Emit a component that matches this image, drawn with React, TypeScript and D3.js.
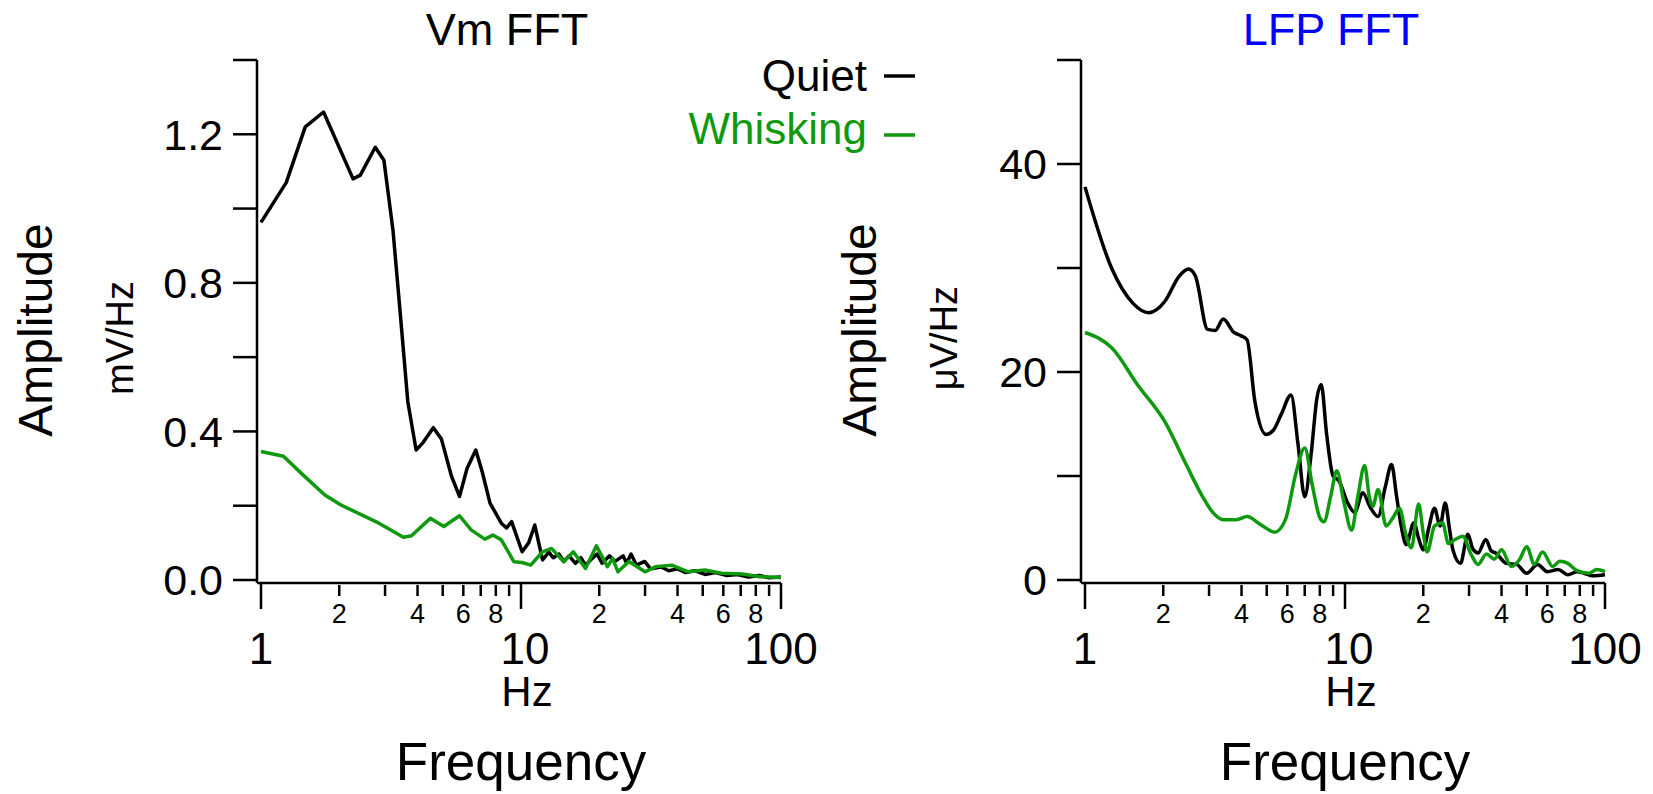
import React from "react";
import * as d3 from "d3";

// ---------- data ----------
const vmQuietFreq = [1.0, 1.25, 1.48, 1.74, 2.26, 2.41, 2.75, 2.97, 3.22, 3.44, 3.67, 3.95, 4.2, 4.6, 4.94, 5.4, 5.8, 6.2, 6.7, 7.1, 7.6, 8.4, 8.8, 9.2, 10.1, 10.7, 11.3, 12.1, 12.8, 13.3, 14.0, 14.6, 15.3, 16.2, 17.0, 17.7, 18.6, 19.6, 20.5, 21.9, 23.0, 24.7, 25.5, 26.5, 27.8, 29.9, 31.5, 34.6, 37, 40, 43, 46.5, 51, 56, 62, 68, 75, 82.6, 90, 100];
const vmQuietAmp = [0.963, 1.07, 1.22, 1.26, 1.08, 1.09, 1.165, 1.13, 0.94, 0.71, 0.48, 0.35, 0.37, 0.41, 0.38, 0.28, 0.225, 0.3, 0.35, 0.29, 0.207, 0.153, 0.14, 0.157, 0.076, 0.1, 0.148, 0.054, 0.075, 0.06, 0.07, 0.05, 0.065, 0.045, 0.06, 0.04, 0.055, 0.07, 0.045, 0.065, 0.05, 0.065, 0.045, 0.07, 0.04, 0.05, 0.03, 0.035, 0.025, 0.03, 0.02, 0.025, 0.015, 0.02, 0.012, 0.015, 0.008, 0.012, 0.006, 0.008];

const vmWhiskFreq = [1.0, 1.22, 1.45, 1.76, 2.03, 2.84, 3.53, 3.79, 4.48, 5.05, 5.8, 6.43, 7.25, 7.8, 8.4, 9.4, 10.1, 10.9, 12.1, 13.1, 14.6, 15.9, 17.7, 19.5, 21.5, 22.5, 23.6, 26, 30, 33, 38, 44, 51, 59, 71, 83, 100];
const vmWhiskAmp = [0.346, 0.333, 0.283, 0.229, 0.202, 0.153, 0.115, 0.119, 0.166, 0.144, 0.173, 0.135, 0.11, 0.121, 0.108, 0.049, 0.047, 0.04, 0.076, 0.085, 0.049, 0.076, 0.031, 0.092, 0.036, 0.058, 0.022, 0.05, 0.022, 0.036, 0.04, 0.022, 0.027, 0.018, 0.016, 0.009, 0.007];

const lfpQuietFreq = [1.0, 1.27, 1.53, 1.76, 2.03, 2.3, 2.5, 2.66, 2.96, 3.17, 3.4, 3.74, 3.97, 4.2, 4.5, 4.97, 5.3, 5.7, 6.2, 6.6, 7.0, 7.4, 7.8, 8.1, 8.5, 9.0, 9.5, 10.2, 10.9, 11.7, 12.5, 13.4, 14.3, 15.1, 15.8, 16.5, 17.2, 18.4, 19.2, 20.0, 21.0, 22.1, 23.2, 24.3, 25.2, 26.0, 27.8, 29.7, 31.0, 32.5, 34.8, 36.5, 38, 41.7, 45.7, 50, 55, 60, 66, 72, 78, 83, 90, 100];
const lfpQuietAmp = [37.8, 29.9, 26.6, 25.7, 26.8, 29.2, 29.9, 29.2, 24.1, 24.0, 25.1, 23.8, 23.5, 23.1, 17.2, 14.0, 14.4, 16.0, 17.8, 13.0, 8.0, 12.0, 17.5, 18.8, 14.0, 10.0, 9.5, 7.5, 6.5, 8.4, 7.0, 6.1, 9.0, 11.1, 8.0, 5.0, 3.4, 5.5, 4.0, 2.9, 5.0, 6.9, 5.2, 7.4, 5.0, 2.9, 1.6, 4.4, 3.0, 2.6, 3.9, 2.8, 2.6, 1.6, 1.5, 0.65, 1.5, 0.8, 1.0, 0.5, 0.8, 0.65, 0.4, 0.5];

const lfpWhiskFreq = [1.0, 1.27, 1.6, 2.03, 2.45, 2.82, 3.1, 3.4, 3.82, 4.2, 4.75, 5.37, 5.9, 6.45, 7.0, 7.5, 8.0, 8.3, 8.8, 9.3, 9.9, 10.6, 11.2, 11.9, 12.4, 12.8, 13.4, 14.4, 15.3, 16.2, 17.1, 18.0, 19.2, 20.0, 20.7, 22.1, 23.7, 25.0, 26.5, 28.4, 30.5, 32.5, 35, 37.5, 40, 43.6, 47, 50, 53.5, 57.5, 63, 67, 72, 78, 86.5, 93, 100];
const lfpWhiskAmp = [23.8, 22.3, 18.7, 15.2, 11.1, 8.1, 6.5, 5.8, 5.8, 6.1, 5.3, 4.6, 5.8, 10.1, 12.7, 9.0, 6.0, 5.6, 8.0, 10.5, 7.5, 4.8, 8.0, 11.0, 8.0, 7.1, 8.7, 5.2, 6.0, 6.9, 4.5, 3.1, 7.3, 4.5, 2.7, 5.2, 5.5, 3.5, 3.9, 4.2, 2.5, 1.5, 2.5, 2.0, 2.9, 1.3, 2.0, 3.2, 1.5, 2.7, 1.3, 1.8, 1.6, 0.9, 0.65, 1.0, 0.8];

const vmMajorTicks = [0, 0.4, 0.8, 1.2];
const vmMinorTicks = [0.2, 0.6, 1.0, 1.4];
const lfpMajorTicks = [0, 20, 40];
const lfpMinorTicks = [10, 30, 50];
const xMinorLabels = [2, 4, 6, 8, 20, 40, 60, 80];
const xMajorTicks = [1, 10, 100];

const legendLabels = ["Quiet", "Whisking"];

const BLACK = "#000000";
const GREEN = "#0f990f";
const FONT = "'Liberation Sans', Arial, Helvetica, sans-serif";

type PanelProps = {
  left: number;
  title: string;
  titleColor: string;
  unit: string;
  yMax: number;
  major: number[];
  minor: number[];
  fmt: (v: number) => string;
  quietF: number[];
  quietA: number[];
  whiskF: number[];
  whiskA: number[];
  curve: d3.CurveFactory;
};

function Panel(p: PanelProps) {
  const axisX = p.left;
  const x = d3.scaleLog().domain([1, 100]).range([axisX + 4, axisX + 524]);
  const y = d3.scaleLinear().domain([0, p.yMax]).range([580, 60]);
  const xAxisY = 583;
  const line = d3
    .line<[number, number]>()
    .x((d) => x(d[0]))
    .y((d) => y(d[1]))
    .curve(p.curve);
  const qData = p.quietF.map((f, i) => [f, p.quietA[i]] as [number, number]);
  const wData = p.whiskF.map((f, i) => [f, p.whiskA[i]] as [number, number]);
  const allMinorX: number[] = [];
  for (let dec = 1; dec <= 10; dec *= 10) {
    for (let k = 2; k <= 9; k++) allMinorX.push(k * dec);
  }
  const cx = (x(1) + x(100)) / 2;
  const midY = 330;
  return (
    <g>
      <text x={cx - 14} y={45} textAnchor="middle" fontSize={45} fill={p.titleColor} fontFamily={FONT}>
        {p.title}
      </text>
      {/* y axis */}
      <line x1={axisX} x2={axisX} y1={60} y2={xAxisY} stroke={BLACK} strokeWidth={2.5} />
      {[...p.major, ...p.minor].map((t) => (
        <line key={"yt" + t} x1={axisX - 24} x2={axisX} y1={y(t)} y2={y(t)} stroke={BLACK} strokeWidth={2.5} />
      ))}
      {p.major.map((t) => (
        <text key={"yl" + t} x={axisX - 34} y={y(t)} dy="0.36em" textAnchor="end" fontSize={43} fontFamily={FONT}>
          {p.fmt(t)}
        </text>
      ))}
      <text
        transform={`translate(${axisX - 205},${midY}) rotate(-90)`}
        textAnchor="middle"
        fontSize={48}
        fontFamily={FONT}
      >
        Amplitude
      </text>
      <text
        transform={`translate(${axisX - 124},${midY + 8}) rotate(-90)`}
        textAnchor="middle"
        fontSize={38}
        fontFamily={FONT}
      >
        {p.unit}
      </text>
      {/* x axis */}
      <line x1={axisX} x2={x(100)} y1={xAxisY} y2={xAxisY} stroke={BLACK} strokeWidth={2.5} />
      {xMajorTicks.map((t) => (
        <line key={"xM" + t} x1={x(t)} x2={x(t)} y1={xAxisY} y2={xAxisY + 26} stroke={BLACK} strokeWidth={2.5} />
      ))}
      {allMinorX.map((t) => (
        <line key={"xm" + t} x1={x(t)} x2={x(t)} y1={xAxisY + 2} y2={xAxisY + 13} stroke={BLACK} strokeWidth={2.5} />
      ))}
      {xMinorLabels.map((t) => (
        <text key={"xml" + t} x={x(t)} y={623} textAnchor="middle" fontSize={27} fontFamily={FONT}>
          {String(t >= 10 ? t / 10 : t)}
        </text>
      ))}
      {xMajorTicks.map((t) => (
        <text key={"xMl" + t} x={x(t) + (t === 10 ? 4 : 0)} y={664} textAnchor="middle" fontSize={44} fontFamily={FONT}>
          {String(t)}
        </text>
      ))}
      <text x={cx + 6} y={706} textAnchor="middle" fontSize={42} fontFamily={FONT}>
        Hz
      </text>
      <text x={cx} y={780} textAnchor="middle" fontSize={53} fontFamily={FONT}>
        Frequency
      </text>
      {/* data */}
      <path d={line(qData) || ""} fill="none" stroke={BLACK} strokeWidth={3.5} strokeLinejoin="round" />
      <path d={line(wData) || ""} fill="none" stroke={GREEN} strokeWidth={3.5} strokeLinejoin="round" />
    </g>
  );
}

export default function App() {
  return (
    <svg width={1653} height={794} style={{ position: "absolute", left: 0, top: 0, background: "#fff" }}>
      <rect width={1653} height={794} fill="#fff" />
      <Panel
        left={257}
        title="Vm FFT"
        titleColor="#000"
        unit="mV/Hz"
        yMax={1.4}
        major={vmMajorTicks}
        minor={vmMinorTicks}
        fmt={(v) => v.toFixed(1)}
        quietF={vmQuietFreq}
        quietA={vmQuietAmp}
        whiskF={vmWhiskFreq}
        whiskA={vmWhiskAmp}
        curve={d3.curveLinear}
      />
      <Panel
        left={1081}
        title="LFP FFT"
        titleColor="#0000ff"
        unit="μV/Hz"
        yMax={50}
        major={lfpMajorTicks}
        minor={lfpMinorTicks}
        fmt={(v) => String(v)}
        quietF={lfpQuietFreq}
        quietA={lfpQuietAmp}
        whiskF={lfpWhiskFreq}
        whiskA={lfpWhiskAmp}
        curve={d3.curveMonotoneX}
      />
      {/* legend */}
      {legendLabels.map((lab, i) => (
        <g key={lab}>
          <text x={867} y={91 + i * 53} textAnchor="end" fontSize={44} fontFamily={FONT} fill={i === 0 ? BLACK : GREEN}>
            {lab}
          </text>
          <line x1={884} x2={915} y1={76 + i * 59} y2={76 + i * 59} stroke={i === 0 ? BLACK : GREEN} strokeWidth={3.5} />
        </g>
      ))}
    </svg>
  );
}
